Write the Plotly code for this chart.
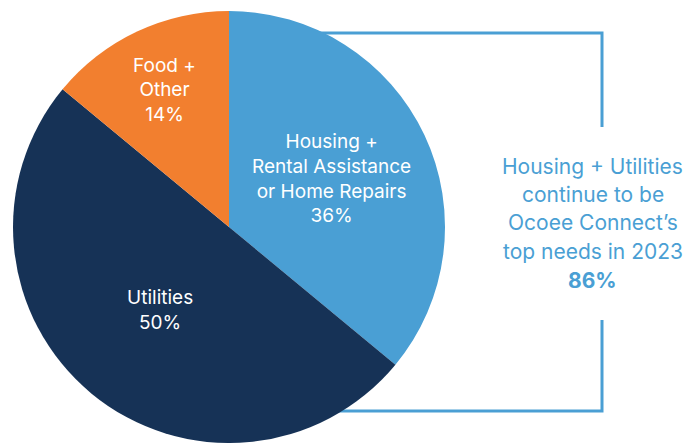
import plotly.graph_objects as go

W, H = 687, 443

categories = ["Housing +<br>Rental Assistance<br>or Home Repairs", "Utilities", "Food +<br>Other"]
values = [36, 50, 14]
colors = ["#4A9FD4", "#163256", "#F27F2F"]

side_lines = ["Housing + Utilities", "continue to be", "Ocoee Connect\u2019s", "top needs in 2023"]
side_total = "86%"

FONT = "Inter"
BLUE = "#4A9FD4"

def px(x):
    return x / W

def py(y):
    return 1 - y / H

fig = go.Figure()
fig.add_trace(go.Pie(
    labels=categories,
    values=values,
    marker=dict(colors=colors, line=dict(width=0)),
    sort=False,
    direction="clockwise",
    rotation=0,
    texttemplate="%{label}<br>%{percent:.0%}",
    textposition="inside",
    insidetextorientation="horizontal",
    textfont=dict(family=FONT, size=19, color="white"),
    hoverinfo="label+percent",
    showlegend=False,
    domain=dict(x=[px(13), px(445)], y=[py(443), py(11)]),
))

shapes = [
    dict(type="path", xref="paper", yref="paper", layer="below",
         path=f"M {px(300)},{py(33)} L {px(602)},{py(33)} L {px(602)},{py(127)}",
         line=dict(color=BLUE, width=3)),
    dict(type="path", xref="paper", yref="paper", layer="below",
         path=f"M {px(602)},{py(320)} L {px(602)},{py(411)} L {px(320)},{py(411)}",
         line=dict(color=BLUE, width=3)),
]

annotations = []
y0 = 166
for i, line in enumerate(side_lines + [f"<b>{side_total}</b>"]):
    annotations.append(dict(
        x=px(592.5), y=py(y0 + i * 28.5), xref="paper", yref="paper",
        text=line, showarrow=False, xanchor="center", yanchor="middle",
        font=dict(family=FONT, size=21, color=BLUE),
    ))

fig.update_layout(
    width=W, height=H,
    margin=dict(l=0, r=0, t=0, b=0),
    paper_bgcolor="white", plot_bgcolor="white",
    shapes=shapes, annotations=annotations,
)

fig.write_html("out.html", config={"displayModeBar": False},
               post_script="document.body.style.margin='0';document.body.style.overflow='hidden';")
